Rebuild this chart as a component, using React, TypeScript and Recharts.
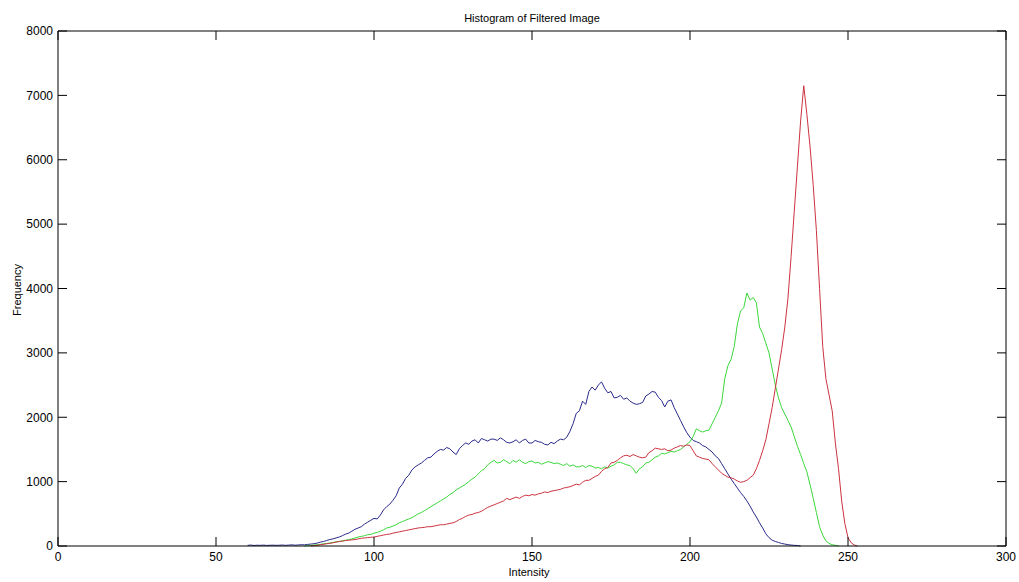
import React from 'react'
import { LineChart, Line, XAxis, YAxis, ReferenceLine } from 'recharts'

// histogram counts per intensity level
// each channel starts at its own intensity
const blueStart = 60
const blueCounts = [
  10, 15, 8, 12, 10, 14, 9, 11, 13, 10,
  12, 15, 10, 14, 18, 12, 16, 20, 18, 25,
  30, 35, 45, 60, 70, 85, 100, 110, 125, 140,
  160, 185, 200, 230, 260, 280, 300, 340, 370, 400,
  430, 420, 480, 560, 610, 650, 710, 780, 900, 960,
  1050, 1100, 1180, 1230, 1260, 1290, 1330, 1370, 1380, 1430,
  1470, 1500, 1490, 1530, 1510, 1460, 1420, 1510, 1560, 1600,
  1580, 1630, 1650, 1600, 1670, 1650, 1630, 1660, 1660, 1640,
  1680, 1650, 1610, 1600, 1620, 1650, 1600, 1640, 1660, 1600,
  1600, 1640, 1620, 1610, 1580, 1570, 1610, 1590, 1630, 1660,
  1650, 1690, 1780, 1900, 2060, 2100, 2250, 2200, 2400, 2470,
  2420, 2500, 2550, 2450, 2380, 2400, 2300, 2310, 2340, 2280,
  2300, 2250, 2220, 2200, 2210, 2230, 2330, 2360, 2400, 2390,
  2310, 2260, 2160, 2250, 2270, 2150, 2050, 1950, 1850, 1760,
  1690, 1640, 1620, 1600, 1560, 1540, 1500, 1460, 1400, 1360,
  1280, 1200, 1120, 1040, 970, 900, 830, 770, 700, 620,
  530, 450, 360, 280, 190, 130, 90, 70, 55, 40,
  30, 20, 15, 10, 8, 0
]

const greenStart = 78
const greenCounts = [
  0, 5,
  10, 15, 20, 25, 35, 40, 45, 55, 65, 70,
  80, 90, 100, 110, 125, 140, 150, 160, 175, 180,
  200, 210, 230, 250, 280, 290, 310, 330, 360, 380,
  400, 420, 440, 470, 500, 520, 550, 580, 610, 640,
  670, 700, 730, 760, 800, 830, 870, 900, 930, 960,
  1000, 1040, 1070, 1120, 1170, 1200, 1260, 1300, 1330, 1290,
  1300, 1340, 1310, 1280, 1330, 1300, 1340, 1300, 1280, 1310,
  1320, 1290, 1300, 1270, 1290, 1310, 1300, 1280, 1290, 1270,
  1250, 1280, 1240, 1260, 1230, 1230, 1250, 1220, 1250, 1240,
  1210, 1220, 1200, 1230, 1210, 1240, 1260, 1300, 1300, 1280,
  1260, 1250, 1200, 1130, 1200, 1230, 1290, 1300, 1340, 1380,
  1400, 1440, 1430, 1450, 1470, 1460, 1480, 1500, 1540, 1580,
  1620, 1700, 1820, 1790, 1770, 1790, 1800, 1900, 2000, 2100,
  2220, 2600, 2800, 2900, 3100, 3450, 3650, 3700, 3930, 3820,
  3860, 3780, 3400, 3300, 3150, 3000, 2750, 2500, 2300, 2150,
  2050, 1950, 1850, 1700, 1550, 1420, 1280, 1150, 950, 740,
  520, 300, 170, 80, 40, 20, 10, 0
]

const redStart = 80
const redCounts = [
  0, 5, 10, 20, 25, 35, 40, 50, 60, 70,
  75, 85, 90, 95, 100, 110, 120, 125, 130, 135,
  140, 150, 160, 170, 180, 185, 200, 210, 220, 230,
  240, 250, 260, 270, 280, 285, 290, 300, 300, 310,
  320, 330, 330, 340, 350, 360, 380, 410, 430, 460,
  480, 490, 510, 520, 540, 570, 600, 620, 640, 660,
  680, 700, 740, 720, 740, 760, 740, 770, 790, 780,
  800, 790, 810, 820, 840, 830, 850, 860, 870, 880,
  900, 910, 920, 940, 960, 950, 990, 1020, 1020, 1050,
  1080, 1100, 1160, 1200, 1220, 1290, 1300, 1330, 1370, 1400,
  1410, 1390, 1420, 1400, 1380, 1370, 1380, 1450, 1480, 1520,
  1510, 1500, 1510, 1480, 1490, 1520, 1540, 1560, 1550, 1570,
  1560, 1480, 1400, 1380, 1360, 1350, 1340, 1280, 1230, 1180,
  1130, 1100, 1070, 1060, 1040, 1010, 990, 1000, 1020, 1060,
  1100, 1200, 1330, 1480, 1650, 1900, 2150, 2450, 2750, 3050,
  3400, 3850, 4500, 5200, 5900, 6600, 7150, 6700, 6200, 5600,
  4900, 4000, 3100, 2600, 2350, 2100, 1600, 1200, 700, 350,
  130, 50, 15, 0
]

const xTicks = [0, 50, 100, 150, 200, 250, 300]
const yTicks = [0, 1000, 2000, 3000, 4000, 5000, 6000, 7000, 8000]

const pick = (arr: number[], start: number, x: number) => {
  const v = arr[x - start]
  return v === undefined ? null : v
}

const data = Array.from({ length: 196 }, (_, i) => {
  const x = 60 + i
  return {
    x,
    r: pick(redCounts, redStart, x),
    g: pick(greenCounts, greenStart, x),
    b: pick(blueCounts, blueStart, x)
  }
})

// plot box in page pixels
const W = 1019
const H = 582
const TOP = 31
const LEFT = 58
const RIGHT = 1006
const BOTTOM = 546
const TICK = 9

const font = '"Liberation Sans", Arial, sans-serif'

// matlab style: tick marks point into the box, on all four sides
const XTick = (props: any) => {
  const { x, payload } = props
  return (
    <g>
      <line x1={x} x2={x} y1={BOTTOM} y2={BOTTOM - TICK} stroke="#000" />
      <line x1={x} x2={x} y1={TOP} y2={TOP + TICK} stroke="#000" />
      <text x={x} y={BOTTOM + 6} dy="0.71em" textAnchor="middle" fontSize={12} fontFamily={font} fill="#000">
        {payload.value}
      </text>
    </g>
  )
}

const YTick = (props: any) => {
  const { y, payload } = props
  return (
    <g>
      <line x1={LEFT} x2={LEFT + TICK} y1={y} y2={y} stroke="#000" />
      <line x1={RIGHT - TICK} x2={RIGHT} y1={y} y2={y} stroke="#000" />
      <text x={LEFT - 5} y={y} dy="0.355em" textAnchor="end" fontSize={12} fontFamily={font} fill="#000">
        {payload.value}
      </text>
    </g>
  )
}

export default function App() {
  return (
    <div style={{ position: 'absolute', left: 0, top: 0, width: W, height: H, background: '#fff', fontFamily: font }}>
      <LineChart width={W} height={H} data={data} margin={{ top: TOP, right: W - RIGHT, left: 0, bottom: 0 }}>
        <XAxis
          type="number"
          dataKey="x"
          domain={[0, 300]}
          ticks={xTicks}
          height={H - BOTTOM}
          tickLine={false}
          stroke="#000"
          tick={<XTick />}
          interval={0}
        />
        <YAxis
          domain={[0, 8000]}
          ticks={yTicks}
          width={LEFT}
          tickLine={false}
          stroke="#000"
          tick={<YTick />}
          interval={0}
        />
        <ReferenceLine y={8000} stroke="#000" strokeWidth={1} />
        <ReferenceLine x={300} stroke="#000" strokeWidth={1} />
        <Line type="linear" dataKey="b" stroke="#2a2a8c" strokeWidth={1} dot={false} isAnimationActive={false} />
        <Line type="linear" dataKey="g" stroke="#3ad83a" strokeWidth={1} dot={false} isAnimationActive={false} />
        <Line type="linear" dataKey="r" stroke="#cc3340" strokeWidth={1} dot={false} isAnimationActive={false} />
      </LineChart>
      <div style={{ position: 'absolute', left: 532, top: 13, transform: 'translateX(-50%)', fontSize: 11, lineHeight: 1, whiteSpace: 'nowrap' }}>
        Histogram of Filtered Image
      </div>
      <div style={{ position: 'absolute', left: 529, top: 567, transform: 'translateX(-50%)', fontSize: 11, lineHeight: 1, whiteSpace: 'nowrap' }}>
        Intensity
      </div>
      <div style={{ position: 'absolute', left: 17, top: 290, transform: 'translate(-50%, -50%) rotate(-90deg)', fontSize: 11, lineHeight: 1, whiteSpace: 'nowrap' }}>
        Frequency
      </div>
    </div>
  )
}
